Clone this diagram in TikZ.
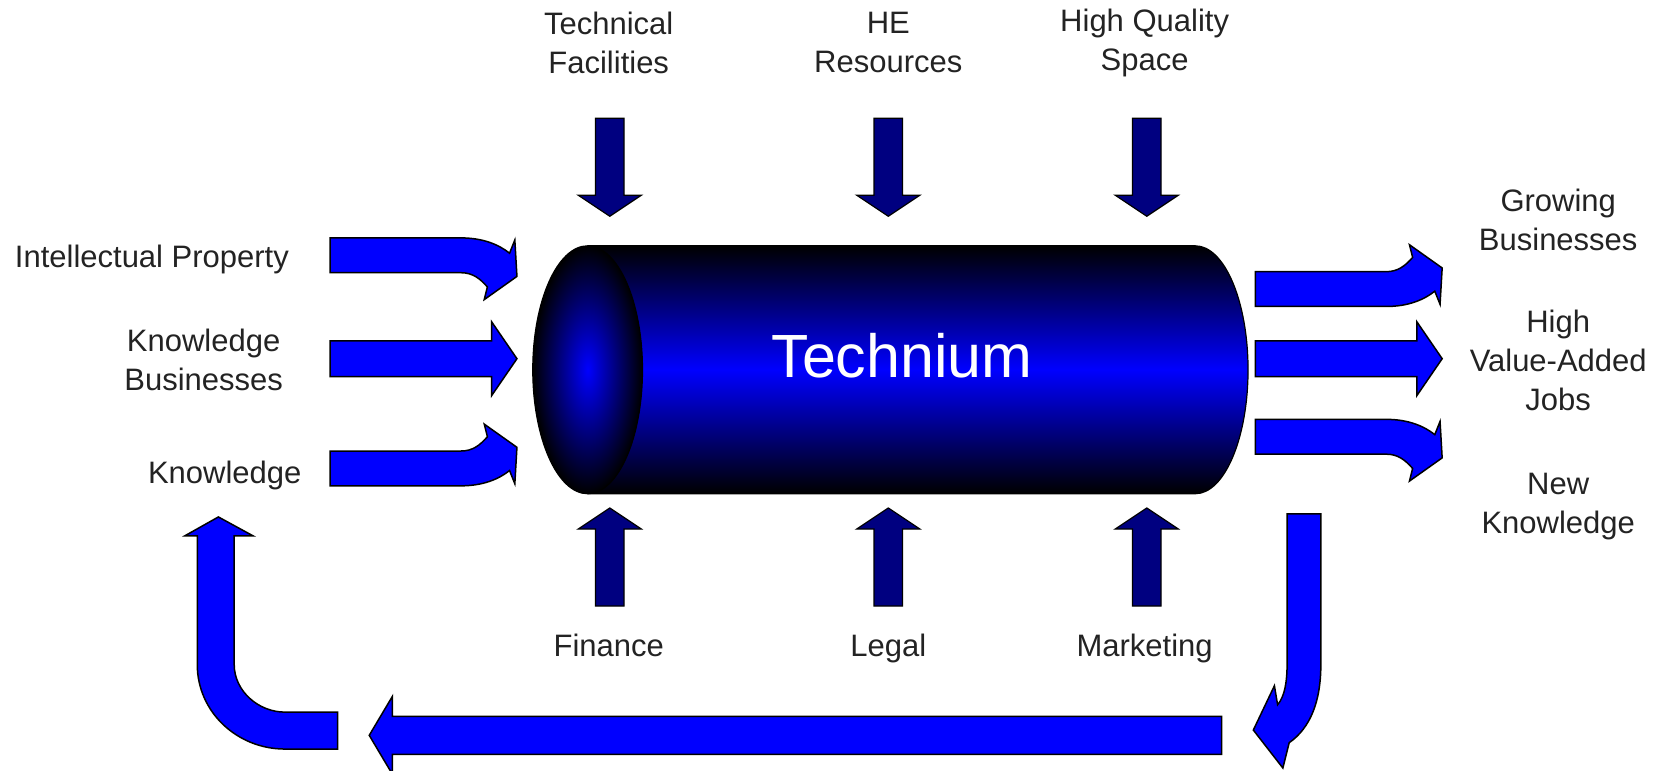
\documentclass[tikz,border=0pt]{standalone}
\usepackage{fontspec}
\setmainfont{Liberation Sans}
\definecolor{navy}{RGB}{0,0,128}
\definecolor{brightblue}{RGB}{0,0,255}
\definecolor{txt}{RGB}{35,35,35}
\tikzset{
  darkarrow/.style={fill=navy, draw=black, line width=1.2pt, line join=miter},
  bluearrow/.style={fill=brightblue, draw=black, line width=1.5pt, line join=miter},
  lbl/.style={font=\fontsize{31}{39}\selectfont, text=txt, align=center, inner sep=0pt},
  downarr/.pic={\path[darkarrow] (-13.5,-46.5) -- (13.5,-46.5) -- (13.5,26.5) -- (30,26.5) -- (0,46.5) -- (-30,26.5) -- (-13.5,26.5) -- cycle;},
  uparr/.pic={\path[darkarrow] (-13.5,46.5) -- (13.5,46.5) -- (13.5,-26.5) -- (30,-26.5) -- (0,-46.5) -- (-30,-26.5) -- (-13.5,-26.5) -- cycle;},
  curvearr/.pic={\path[bluearrow] (0,-16.5) -- (124,-16.5) .. controls (145,-16.5) and (160,-10) .. (170,-2) -- (175,-14.5) -- (177,20) -- (146,42) -- (149,30) .. controls (142,22) and (135,16.5) .. (124,16.5) -- (0,16.5) -- cycle;},
  straightarr/.pic={\path[bluearrow] (0,-17) -- (153,-17) -- (153,-35) -- (177,0) -- (153,35) -- (153,17) -- (0,17) -- cycle;}
}
\begin{document}
\begin{tikzpicture}[x=1.055pt,y=-1.055pt]
\useasboundingbox (0,0) rectangle (1567.8,730.8);
% cylinder body
\shade[top color=black, bottom color=black, middle color=brightblue]
  (557,233) -- (1133,233) .. controls (1160.6,233) and (1183,285.6) .. (1183,350.5)
  .. controls (1183,415.4) and (1160.6,468) .. (1133,468) -- (557,468) -- cycle;
\draw[line width=1.2pt]
  (557,233) -- (1133,233) .. controls (1160.6,233) and (1183,285.6) .. (1183,350.5)
  .. controls (1183,415.4) and (1160.6,468) .. (1133,468) -- (557,468);
\shade[inner color=brightblue, outer color=black, draw=black, line width=1.2pt]
  (557,350.5) ellipse [x radius=52, y radius=117.5];
\node[font=\fontsize{61}{63}\selectfont, text=white] (tech) at (855,337) {Technium};
% labels
\node[lbl] (tf) at (577,40.5) {Technical\\Facilities};
\node[lbl] (he) at (842,40.5) {HE\\Resources};
\node[lbl] (hq) at (1085,40.5) {High Quality\\Space};
\node[lbl, anchor=base] (ip) at (144,254) {Intellectual Property};
\node[lbl] (kb) at (193,341.5) {Knowledge\\Businesses};
\node[lbl, anchor=base] (kn) at (213,458) {Knowledge};
\node[lbl] (gb) at (1477,208.5) {Growing\\Businesses};
\node[lbl] (hv) at (1477,341.5) {High\\Value-Added\\Jobs};
\node[lbl] (nk) at (1477,480.5) {New\\Knowledge};
\node[lbl, anchor=base] (fi) at (577,622) {Finance};
\node[lbl, anchor=base] (le) at (842,622) {Legal};
\node[lbl, anchor=base] (mk) at (1085,622) {Marketing};
% dark input arrows
\pic at (578,158.5) {downarr};
\pic at (842,158.5) {downarr};
\pic at (1087,158.5) {downarr};
\pic at (578,528) {uparr};
\pic at (842,528) {uparr};
\pic at (1087,528) {uparr};
% left blue arrows
\pic at (313,242) {curvearr};
\pic at (313,340) {straightarr};
\pic[yscale=-1] at (313,444) {curvearr};
% right blue arrows
\pic[yscale=-1] at (1190,274) {curvearr};
\pic at (1190,340) {straightarr};
\pic at (1190,414) {curvearr};
% feedback loop
\path[bluearrow] (1220,487) -- (1252,487) -- (1252,630)
  .. controls (1252,665) and (1242,690) .. (1222,704) -- (1216,728) -- (1188,692)
  -- (1208,650) -- (1211,668) .. controls (1218,660) and (1220,645) .. (1220,630) -- cycle;
\path[bluearrow] (1158,679) -- (372,679) -- (372,660) -- (350,697) -- (372,734)
  -- (372,715) -- (1158,715) -- cycle;
\path[bluearrow] (320,675) -- (320,710) -- (270,710)
  .. controls (225,710) and (187,675) .. (187,630) -- (187,508) -- (175,508)
  -- (207,490) -- (240,508) -- (222,508) -- (222,630)
  .. controls (222,655) and (245,675) .. (270,675) -- cycle;
\end{tikzpicture}
\end{document}
